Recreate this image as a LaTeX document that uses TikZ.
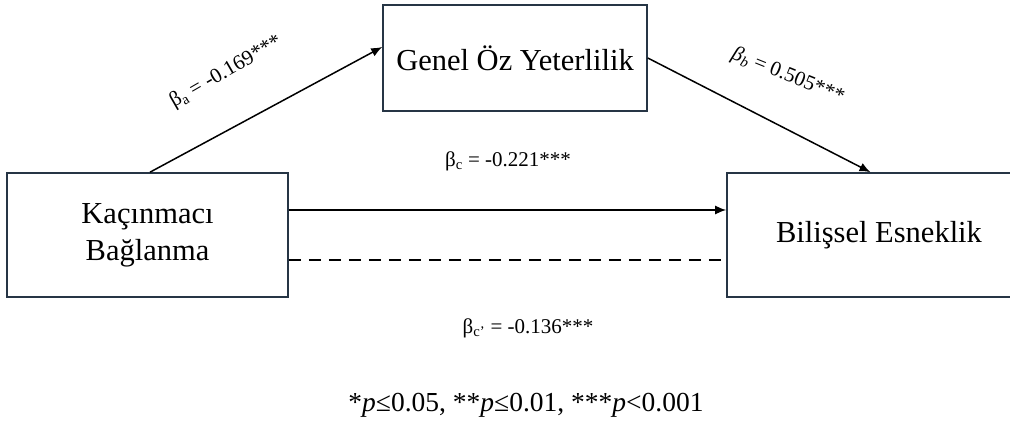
\documentclass[tikz,border=0pt]{standalone}
\usepackage{fontspec}
\setmainfont{Liberation Serif}
\usetikzlibrary{arrows.meta}
\definecolor{boxline}{HTML}{263545}
\tikzset{
  varbox/.style={draw=boxline, line width=1.6pt, fill=white, inner sep=0pt, align=center, font=\fontsize{30.5}{37}\selectfont},
  arr/.style={line width=1.5pt, -{Latex[length=11pt,width=9pt]}},
  dashline/.style={line width=1.5pt, dash pattern=on 12pt off 8pt},
  coef/.style={font=\fontsize{21}{25}\selectfont, inner sep=0pt},
}
\begin{document}
\begin{tikzpicture}[x=1pt,y=-1pt]
\useasboundingbox (0,0) rectangle (1010,427);
\fill[white] (0,0) rectangle (1010,427);
\begin{scope}
\clip (0,0) rectangle (1010,427);
\node[varbox, minimum width=281pt, minimum height=124pt] (L) at (147.5,235) {Kaçınmacı\\Bağlanma};
\node[varbox, minimum width=264pt, minimum height=106pt] (T) at (515,58) {Genel Öz Yeterlilik};
\node[varbox, minimum width=304pt, minimum height=124pt] (R) at (879,235) {Bilişsel Esneklik};
\end{scope}
\draw[arr] ([xshift=2.5pt]L.north) -- ([yshift=11pt]T.west);
\draw[arr] (T.east) -- ([xshift=-8.5pt]R.north);
\draw[arr] ([yshift=25pt]L.east) -- ([yshift=25pt]R.west);
\draw[dashline] ([yshift=-25pt]L.east) -- ([yshift=-25pt]R.west);
\node[coef, rotate=30] (la) at (226,72) {β\textsubscript{a} = -0.169***};
\node[coef, rotate=-22] (lb) at (788,76) {\textit{β}\textsubscript{\textit{b}} = 0.505***};
\node[coef] (lc) at (508,161) {β\textsubscript{c} = -0.221***};
\node[coef] (lcp) at (528,328) {β\textsubscript{c’} = -0.136***};
\node[font=\fontsize{27.5}{32}\selectfont, inner sep=0pt] (note) at (526,405) {*\textit{p}≤0.05, **\textit{p}≤0.01, ***\textit{p}<0.001};
\end{tikzpicture}
\end{document}
